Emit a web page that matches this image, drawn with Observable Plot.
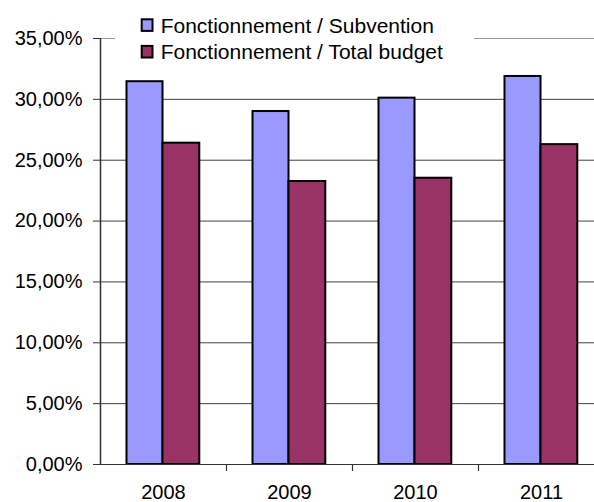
<!DOCTYPE html>
<html>
<head>
<meta charset="utf-8">
<script src="https://cdn.jsdelivr.net/npm/d3@7"></script>
<script src="https://cdn.jsdelivr.net/npm/@observablehq/plot@0.6"></script>
<style>
  html, body { margin: 0; padding: 0; background: #fff; overflow: hidden; }
  #chart { position: relative; width: 594px; height: 502px; }
  #legend { position: absolute; left: 0; top: 0; pointer-events: none; }
</style>
</head>
<body>
<div id="chart"></div>
<script>
// Operating costs as a share of the subsidy and of the total budget
const years = ["2008", "2009", "2010", "2011"];
const series = ["Fonctionnement / Subvention", "Fonctionnement / Total budget"];
const subvention = [0.3145, 0.290, 0.301, 0.3188];
const totalBudget = [0.2640, 0.2325, 0.2352, 0.2628];
const yTicks = [0, 0.05, 0.10, 0.15, 0.20, 0.25, 0.30, 0.35];
const colors = ["#9999ff", "#993366"];

const fr = d3.formatLocale({decimal: ",", thousands: "\u00a0", grouping: [3], currency: ["", " €"]});
const pct = fr.format(".2%");

const subRows = years.map((year, i) => ({year, value: subvention[i]}));
const totRows = years.map((year, i) => ({year, value: totalBudget[i]}));

const chart = Plot.plot({
  width: 594,
  height: 502,
  marginLeft: 100,
  marginRight: 0,
  marginTop: 38,
  marginBottom: 38,
  style: {fontFamily: "'Liberation Sans', Arial, sans-serif", fontSize: "20px", color: "#000", background: "#fff"},
  x: {domain: years, range: [100, 604], padding: 0, label: null},
  y: {domain: [0, 0.35], label: null},
  marks: [
    // horizontal gridlines
    Plot.ruleY(yTicks.slice(1, -1), {stroke: "#404040", strokeWidth: 1}),
    Plot.ruleY([0.35], {stroke: "#9a9a9a", strokeWidth: 1.2}),
    // the two series side by side within each year
    Plot.barY(subRows, {x: "year", y: "value", fill: colors[0], stroke: "#000", strokeWidth: 2, insetLeft: 26.5, insetRight: 63.5}),
    Plot.barY(totRows, {x: "year", y: "value", fill: colors[1], stroke: "#000", strokeWidth: 2, insetLeft: 62.5, insetRight: 26.7}),
    // axis lines and category separators
    Plot.ruleY([0], {stroke: "#333", strokeWidth: 1.2}),
    Plot.ruleX([years[0]], {dx: -63, stroke: "#333", strokeWidth: 1.5}),
    Plot.ruleX(years.slice(1), {dx: -63, y1: 0, y2: 0, insetBottom: -7, stroke: "#333", strokeWidth: 1.2}),
    Plot.axisY({ticks: yTicks, tickFormat: pct, tickSize: 7, tickPadding: 11, stroke: "#333"}),
    Plot.axisX({tickSize: 0, tickPadding: 20})
  ]
});

const host = document.getElementById("chart");
host.appendChild(chart);

// legend box over the top of the plot area
const legend = d3.create("svg")
  .attr("id", "legend")
  .attr("width", 594)
  .attr("height", 80)
  .style("font-family", "'Liberation Sans', Arial, sans-serif")
  .style("font-size", "21px");

legend.append("rect")
  .attr("x", 115).attr("y", 0).attr("width", 359).attr("height", 68)
  .attr("fill", "#fff");

const item = legend.selectAll("g")
  .data(series)
  .join("g")
  .attr("transform", (d, i) => `translate(0, ${i * 26.6})`);

item.append("rect")
  .attr("x", 141.7).attr("y", 19.3).attr("width", 10.8).attr("height", 11.6)
  .attr("fill", (d, i) => colors[i])
  .attr("stroke", "#000").attr("stroke-width", 2);

item.append("text")
  .attr("x", 160.7).attr("y", 32.8)
  .attr("fill", "#000")
  .text(d => d);

host.appendChild(legend.node());
</script>
</body>
</html>
